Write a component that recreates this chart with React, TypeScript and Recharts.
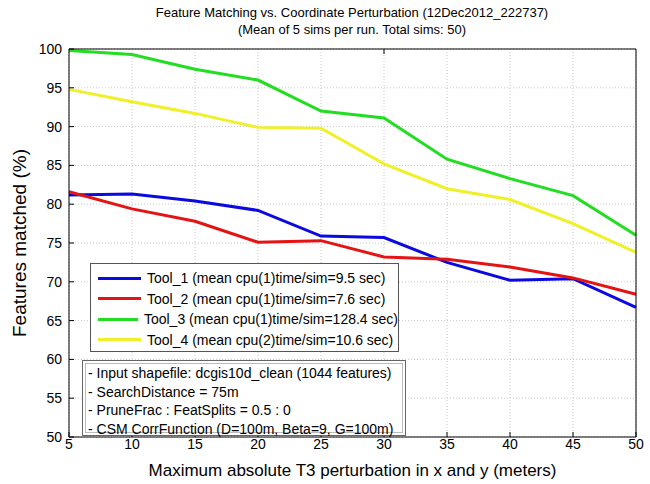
import { CartesianGrid, Line, LineChart, XAxis, YAxis } from "recharts";

const xs = [5, 10, 15, 20, 25, 30, 35, 40, 45, 50];
const tool1 = [81.2, 81.3, 80.4, 79.2, 75.9, 75.7, 72.5, 70.2, 70.4, 66.7];
const tool2 = [81.6, 79.4, 77.8, 75.1, 75.3, 73.2, 72.9, 71.9, 70.5, 68.4];
const tool3 = [99.8, 99.3, 97.4, 96.0, 92.0, 91.1, 85.8, 83.3, 81.1, 76.0];
const tool4 = [94.8, 93.2, 91.7, 89.9, 89.8, 85.2, 82.0, 80.6, 77.5, 73.8];
const yTicks = [50, 55, 60, 65, 70, 75, 80, 85, 90, 95, 100];

const SERIES = [
  { key: "t1", name: "Tool_1 (mean cpu(1)time/sim=9.5 sec)", color: "#0a0ae0", values: tool1 },
  { key: "t2", name: "Tool_2 (mean cpu(1)time/sim=7.6 sec)", color: "#e41414", values: tool2 },
  { key: "t3", name: "Tool_3 (mean cpu(1)time/sim=128.4 sec)", color: "#22dd22", values: tool3 },
  { key: "t4", name: "Tool_4 (mean cpu(2)time/sim=10.6 sec)", color: "#f0f028", values: tool4 },
];

const NOTES = [
  "- Input shapefile: dcgis10d_clean (1044 features)",
  "- SearchDistance = 75m",
  "- PruneFrac : FeatSplits = 0.5 : 0",
  "- CSM CorrFunction (D=100m, Beta=9, G=100m)",
];

const data = xs.map((x, i) => {
  const row: Record<string, number> = { x };
  SERIES.forEach((s) => (row[s.key] = s.values[i]));
  return row;
});

const FONT = "Arial, 'Liberation Sans', sans-serif";
const tickStyle = { fill: "#000", fontSize: 14, fontFamily: FONT };

export default function App() {
  return (
    <div style={{ position: "absolute", left: 0, top: 0, width: 650, height: 484, background: "#fff" }}>
      <LineChart width={650} height={484} data={data} margin={{ top: 48, right: 0, bottom: 0, left: 0 }}>
        <CartesianGrid stroke="#c8c8c8" strokeDasharray="1 2" />
        <XAxis
          type="number"
          dataKey="x"
          domain={[5, 50]}
          ticks={xs}
          height={47}
          tick={tickStyle}
          stroke="#000"
          tickSize={-5}
          tickMargin={7}
          label={{ value: "Maximum absolute T3 perturbation in x and y (meters)", position: "insideBottom", offset: 8, fill: "#000", fontSize: 17, fontFamily: FONT }}
        />
        <XAxis
          xAxisId="top"
          orientation="top"
          type="number"
          domain={[5, 50]}
          ticks={xs}
          height={1}
          stroke="#000"
          tickSize={-5}
          tickFormatter={() => ""}
        />
        <YAxis
          type="number"
          domain={[50, 100]}
          ticks={yTicks}
          width={69}
          tick={tickStyle}
          stroke="#000"
          tickSize={-5}
          tickMargin={12}
          label={{ value: "Features matched (%)", angle: -90, position: "insideLeft", offset: 19, fill: "#000", fontSize: 19, fontFamily: FONT, style: { textAnchor: "middle" } }}
        />
        <YAxis
          yAxisId="right"
          orientation="right"
          type="number"
          domain={[50, 100]}
          ticks={yTicks}
          width={14}
          stroke="#000"
          tickSize={-5}
          tickFormatter={() => ""}
        />
        {SERIES.map((s) => (
          <Line
            key={s.key}
            dataKey={s.key}
            name={s.name}
            stroke={s.color}
            strokeWidth={3}
            dot={false}
            isAnimationActive={false}
          />
        ))}
        <text x={352} y={17} textAnchor="middle" fontSize={13} fontFamily={FONT} fill="#000">
          Feature Matching vs. Coordinate Perturbation (12Dec2012_222737)
        </text>
        <text x={352} y={34} textAnchor="middle" fontSize={13} fontFamily={FONT} fill="#000">
          (Mean of 5 sims per run. Total sims: 50)
        </text>
      </LineChart>
      <div
        style={{
          position: "absolute",
          left: 90,
          top: 263,
          width: 309,
          height: 89,
          border: "1px solid #555",
          background: "#fff",
          boxSizing: "border-box",
          padding: "4px 0 0 7px",
          fontFamily: FONT,
          fontSize: 14,
          whiteSpace: "nowrap",
        }}
      >
        {SERIES.map((s) => (
          <div key={s.key} style={{ display: "flex", alignItems: "center", height: 20.5 }}>
            <div style={{ width: 43, height: 3, background: s.color, marginRight: 6 }} />
            <span>{s.name}</span>
          </div>
        ))}
      </div>
      <div
        style={{
          position: "absolute",
          left: 82,
          top: 360,
          width: 324,
          height: 76,
          border: "1px solid #666",
          boxShadow: "inset 0 0 0 2px #fff, inset 0 0 0 3px #bbb",
          background: "#fff",
          boxSizing: "border-box",
          padding: "3px 0 0 5px",
          fontFamily: FONT,
          fontSize: 14,
          lineHeight: "18.5px",
          whiteSpace: "nowrap",
        }}
      >
        {NOTES.map((n) => (
          <div key={n}>{n}</div>
        ))}
      </div>
    </div>
  );
}
